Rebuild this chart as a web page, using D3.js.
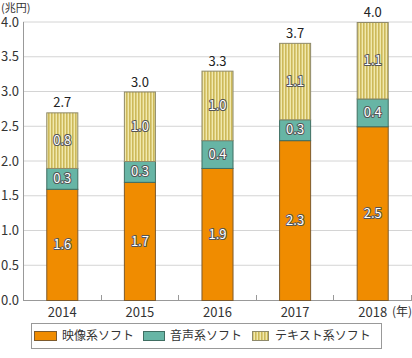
<!DOCTYPE html>
<html><head><meta charset="utf-8">
<script src="https://cdn.jsdelivr.net/npm/d3@7"></script>
<style>
body{margin:0;background:#fff;}
svg{display:block;font-family:"Noto Sans CJK JP","Noto Sans",sans-serif;}
</style></head>
<body>
<svg id="c" width="412" height="358"></svg>
<script>
const years = ["2014","2015","2016","2017","2018"];
const video = [1.6, 1.7, 1.9, 2.3, 2.5];
const audio = [0.3, 0.3, 0.4, 0.3, 0.4];
const text  = [0.8, 1.0, 1.0, 1.1, 1.1];
const totals = [2.7, 3.0, 3.3, 3.7, 4.0];
const seriesNames = ["映像系ソフト","音声系ソフト","テキスト系ソフト"];
const yTicks = [0,0.5,1.0,1.5,2.0,2.5,3.0,3.5,4.0];

const svg = d3.select("#c");
const defs = svg.append("defs");
const pat = defs.append("pattern").attr("id","stripe").attr("patternUnits","userSpaceOnUse")
  .attr("width",3).attr("height",10);
pat.append("rect").attr("width",3).attr("height",10).attr("fill","#f1e9ad");
pat.append("rect").attr("width",1.6).attr("height",10).attr("fill","#cdb95a");

const x0 = 23, x1 = 411, yTop = 22, yBot = 300;
const x = d3.scaleBand().domain(years).range([x0, x1]).paddingInner(0.6).paddingOuter(0.3);
const y = d3.scaleLinear().domain([0,4]).range([yBot, yTop]);

// grid
svg.append("g").selectAll("line").data(yTicks.filter(d=>d>0)).join("line")
  .attr("x1",x0).attr("x2",412).attr("y1",d=>y(d)).attr("y2",d=>y(d))
  .attr("stroke","#d4d4d4").attr("stroke-width",1);

// y axis labels
svg.append("g").selectAll("text").data(yTicks).join("text")
  .attr("x",19).attr("y",d=>y(d)).attr("dy","0.36em").attr("text-anchor","end")
  .attr("font-size",13).attr("fill","#333").text(d=>d.toFixed(1));

svg.append("text").attr("x",1).attr("y",11.5).attr("font-size",11).attr("fill","#333").text("(兆円)");

// axes lines
svg.append("line").attr("x1",x0+0.5).attr("x2",x0+0.5).attr("y1",yTop).attr("y2",yBot).attr("stroke","#999");
svg.append("line").attr("x1",x0).attr("x2",412).attr("y1",yBot+0.5).attr("y2",yBot+0.5).attr("stroke","#999");

// tick marks at category boundaries
const step = x.step();
const tickPos = years.map(yr => x(yr) + x.bandwidth() + (step - x.bandwidth())/2);
svg.append("g").selectAll("line").data(tickPos).join("line")
  .attr("x1",d=>Math.round(d)+0.5).attr("x2",d=>Math.round(d)+0.5).attr("y1",yBot-5).attr("y2",yBot)
  .attr("stroke","#999");

// stacked data
const rows = years.map((yr,i)=>({year:yr, v:video[i], a:audio[i], t:text[i], total:totals[i]}));
const stack = d3.stack().keys(["v","a","t"])(rows);
const fills = {v:"#f08c00", a:"#67b5a5", t:"url(#stripe)"};
const strokes = {v:"#7d5a2c", a:"#3f6e62", t:"#8f8a6a"};

const g = svg.append("g");
stack.forEach(layer=>{
  g.selectAll(null).data(layer).join("rect")
    .attr("x",d=>x(d.data.year)+0.5).attr("width",x.bandwidth())
    .attr("y",d=>y(d[1])+0.5).attr("height",d=>y(d[0])-y(d[1]))
    .attr("fill",fills[layer.key]).attr("stroke",strokes[layer.key]).attr("stroke-width",1);
});
stack.forEach(layer=>{
  g.selectAll(null).data(layer).join("text")
    .attr("x",d=>x(d.data.year)+x.bandwidth()/2+0.5)
    .attr("y",d=>(y(d[0])+y(d[1]))/2).attr("dy","0.36em")
    .attr("text-anchor","middle").attr("font-size",13)
    .attr("fill","#fff").attr("stroke","#555").attr("stroke-width",2)
    .attr("paint-order","stroke").attr("stroke-linejoin","round")
    .text(d=>(d[1]-d[0]).toFixed(1));
});
// totals
g.selectAll(null).data(rows).join("text")
  .attr("x",d=>x(d.year)+x.bandwidth()/2+0.5).attr("y",d=>y(d.total)-5)
  .attr("text-anchor","middle").attr("font-size",13).attr("fill","#222")
  .text(d=>d.total.toFixed(1));

// x labels
svg.append("g").selectAll("text").data(years).join("text")
  .attr("x",d=>x(d)+x.bandwidth()/2+0.5).attr("y",317)
  .attr("text-anchor","middle").attr("font-size",13).attr("fill","#333").text(d=>d);
svg.append("text").attr("x",392).attr("y",316).attr("font-size",12).attr("fill","#333").text("(年)");

// legend
svg.append("rect").attr("x",31.5).attr("y",323.5).attr("width",350).attr("height",25)
  .attr("fill","#fff").attr("stroke","#999");
const leg = [
  {sx:34, sw:22, tx:62, fill:fills.v, stroke:strokes.v},
  {sx:143, sw:21, tx:170, fill:fills.a, stroke:strokes.a},
  {sx:252, sw:16, tx:275, fill:fills.t, stroke:strokes.t}
];
leg.forEach((l,i)=>{
  svg.append("rect").attr("x",l.sx+0.5).attr("y",331.5).attr("width",l.sw).attr("height",9)
    .attr("fill",l.fill).attr("stroke",l.stroke);
  svg.append("text").attr("x",l.tx).attr("y",336).attr("dy","0.36em").attr("font-size",12)
    .attr("fill","#333").text(seriesNames[i]);
});
</script>
</body></html>
